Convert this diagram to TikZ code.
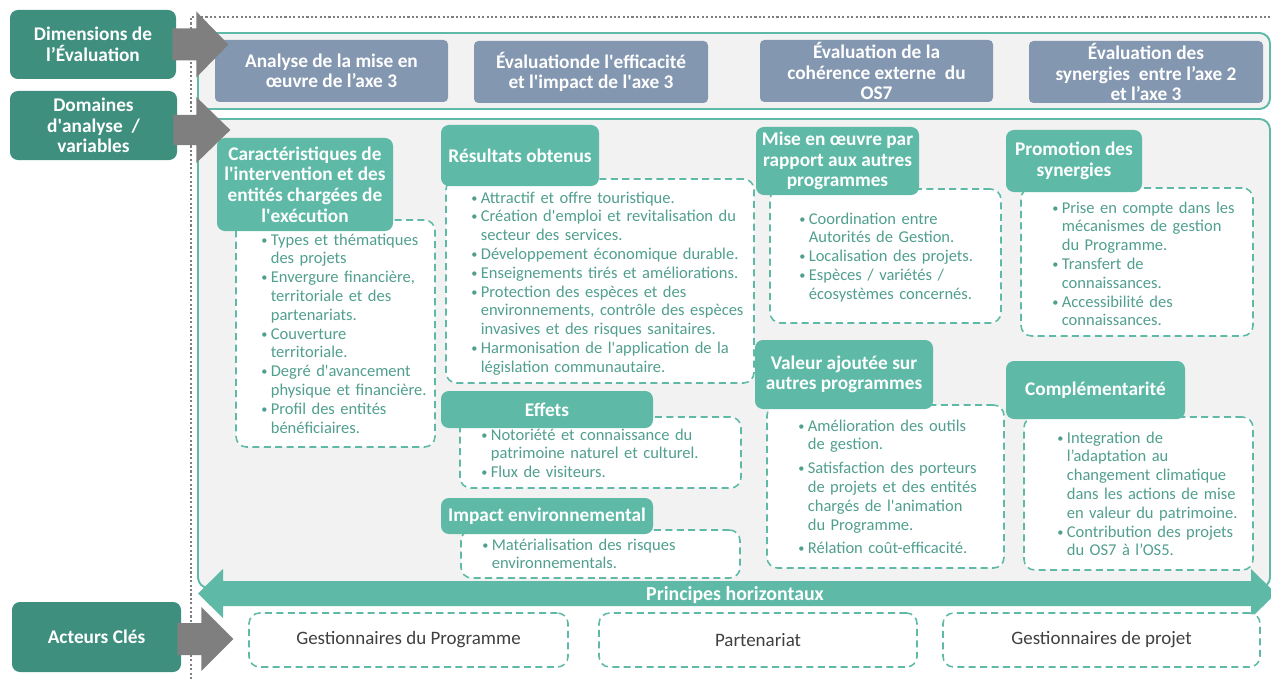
\documentclass[tikz,border=0pt]{standalone}
\usepackage{fontspec}
\setmainfont{Carlito}
\usetikzlibrary{positioning}
\usetikzlibrary{fit}

\definecolor{dimgreen}{HTML}{3F8F7F}
\definecolor{headgreen}{HTML}{5EBAA7}
\definecolor{evalblue}{HTML}{8497B0}
\definecolor{panelgray}{HTML}{F2F2F2}
\definecolor{listtxt}{HTML}{519F8E}
\definecolor{arrowgray}{HTML}{7F7F7F}

\newcommand{\itm}{\par\hangindent=5.4pt\hangafter=1\noindent
  \makebox[5.4pt][l]{\raisebox{0.6pt}{\fontsize{7}{6}\selectfont\textbullet}}}
\newcommand{\itmgap}{\par\vspace{2.8pt}\itm}
\newcommand{\brk}{\newline}
\newcommand{\sq}{\textquotesingle}

\tikzset{
  boxsize/.style 2 args={minimum width=#1*0.02cm, minimum height=#2*0.02cm},
  dimbox/.style={fill=dimgreen, rounded corners=4.5pt, inner sep=0pt, align=center,
    text=white, font=\fontsize{11}{11.7}\selectfont\bfseries},
  evalbox/.style={fill=evalblue, rounded corners=2.5pt, inner sep=0pt, align=center,
    text=white, font=\fontsize{11}{11.7}\selectfont\bfseries},
  headbox/.style={fill=headgreen, rounded corners=4.5pt, inner sep=0pt, align=center,
    text=white, font=\fontsize{11}{11.7}\selectfont\bfseries},
  panel/.style={draw=headgreen, fill=panelgray, line width=1.1pt, rounded corners=6pt, inner sep=0pt},
  listbox/.style={draw=headgreen, fill=white, line width=0.9pt, dash pattern=on 4pt off 2.5pt,
    rounded corners=6pt, inner sep=0pt},
  listtext/.style={anchor=north west, inner sep=0pt, text width=6cm, align=left,
    text=listtxt, font=\fontsize{9.4}{10.7}\selectfont},
  actorbox/.style={listbox, text=black!75, font=\fontsize{10.8}{13}\selectfont},
  blockarrow/.style={fill=arrowgray},
  bandarrow/.style={fill=headgreen},
  dotline/.style={draw=arrowgray, line width=1.3pt, dash pattern=on 1.2pt off 1.3pt}
}

\begin{document}
\begin{tikzpicture}[x=0.02cm, y=-0.02cm]
  \useasboundingbox (0,0) rectangle (1271,679);
  \draw[dotline] (191,679) -- (191,17) -- (1271,17);

  % panels
  \node[panel, fit={(198,33) (1270,109)}] (toppanel) {};
  \node[panel, fit={(198,119) (1270,588)}] (mainpanel) {};

  % dimensions de l'evaluation
  \node[evalbox, boxsize={233}{62}] (miseoeuvre) at (331.5,71) {Analyse de la mise en\\œuvre de l’axe 3};
  \node[evalbox, boxsize={234}{62}] (efficacite) at (591,72) {Évaluationde l\sq efficacité\\et l\sq impact de l\sq axe 3};
  \node[evalbox, boxsize={233}{62}] (coherence) at (876.5,71) {Évaluation de la\\cohérence externe\ \ du\\OS7};
  \node[evalbox, boxsize={234}{62}] (synergies) at (1146,72) {Évaluation des\\synergies\ \ entre l’axe 2\\et l’axe 3};

  % lists
  \node[listbox, fit={(236,220) (435,447)}] (caractbox) {};
  \node[listtext] (caracttxt) at (261,226) {
    \itm Types et thématiques\brk des projets
    \itm Envergure financière,\brk territoriale et des\brk partenariats.
    \itm Couverture\brk territoriale.
    \itm Degré d\sq avancement\brk physique et financière.
    \itm Profil des entités\brk bénéficiaires.\par};
  \node[listbox, fit={(446,179) (754,383)}] (resultbox) {};
  \node[listtext] (resulttxt) at (471,184) {
    \itm Attractif et offre touristique.
    \itm Création d\sq emploi et revitalisation du\brk secteur des services.
    \itm Développement économique durable.
    \itm Enseignements tirés et améliorations.
    \itm Protection des espèces et des\brk environnements, contrôle des espèces\brk invasives et des risques sanitaires.
    \itm Harmonisation de l\sq application de la\brk législation communautaire.\par};
  \node[listbox, fit={(460,417) (741,488)}] (effetsbox) {};
  \node[listtext] (effetstxt) at (481,421) {
    \itm Notoriété et connaissance du\brk patrimoine naturel et culturel.
    \itm Flux de visiteurs.\par};
  \node[listbox, fit={(461,530) (740,578)}] (impactbox) {};
  \node[listtext] (impacttxt) at (482,531) {
    \itm Matérialisation des risques\brk environnementals.\par};
  \node[listbox, fit={(770,189) (1001,323)}] (autresbox) {};
  \node[listtext] (autrestxt) at (799,205) {
    \itm Coordination entre\brk Autorités de Gestion.
    \itm Localisation des projets.
    \itm Espèces / variétés /\brk écosystèmes concernés.\par};
  \node[listbox, fit={(1021,188) (1253,336)}] (promobox) {};
  \node[listtext] (promotxt) at (1052,194) {
    \itm Prise en compte dans les\brk mécanismes de gestion\brk du Programme.
    \itm Transfert de\brk connaissances.
    \itm Accessibilité des\brk connaissances.\par};
  \node[listbox, fit={(767,405) (1004,568)}] (valeurbox) {};
  \node[listtext] (valeurtxt) at (798,412) {
    \itm Amélioration des outils\brk de gestion.
    \itmgap Satisfaction des porteurs\brk de projets et des entités\brk chargés de l\sq animation\brk du Programme.
    \itmgap Rélation coût-efficacité.\par};
  \node[listbox, fit={(1024,417) (1253,570)}] (complbox) {};
  \node[listtext] (compltxt) at (1057,424) {
    \itm Integration de\brk l’adaptation au\brk changement climatique\brk dans les actions de mise\brk en valeur du patrimoine.
    \itm Contribution des projets\brk du OS7 à l’OS5.\par};

  % domaines d'analyse
  \node[headbox, boxsize={176}{93}] (caract) at (305,184.5) {Caractéristiques de\\l\sq intervention et des\\entités chargées de\\l\sq exécution};
  \node[headbox, boxsize={158}{61}] (resultats) at (520,155.5) {Résultats obtenus};
  \node[headbox, boxsize={212}{37}] (effets) at (547,409.5) {Effets};
  \node[headbox, boxsize={212}{36}] (impact) at (547,516) {Impact environnemental};
  \node[headbox, boxsize={163}{68}] (autres) at (837.5,161) {Mise en œuvre par\\rapport aux autres\\programmes};
  \node[headbox, boxsize={136}{62}] (promotion) at (1074,161) {Promotion des\\synergies};
  \node[headbox, boxsize={178}{69}] (valeur) at (844,374.5) {Valeur ajoutée sur\\autres programmes};
  \node[headbox, boxsize={179}{58}] (complement) at (1095.5,390) {Complémentarité};

  % principes horizontaux
  \fill[bandarrow] (198,593.5) -- (223,569) -- (223,581) -- (1251,581) -- (1251,569) -- (1276,593.5)
    -- (1251,618) -- (1251,606) -- (223,606) -- (223,618) -- cycle;
  \node[text=white, font=\fontsize{11.3}{12}\selectfont\bfseries] (principes) at (735,595) {Principes horizontaux};

  % acteurs
  \node[actorbox, boxsize={319}{54}] (gestprog) at (408.5,640) {Gestionnaires du Programme};
  \node[actorbox, boxsize={318}{54}] (partenariat) at (758,640) {Partenariat};
  \node[actorbox, boxsize={317}{54}] (gestprojet) at (1101.5,640) {Gestionnaires de projet};

  % left column
  \node[dimbox, boxsize={166}{69}] (dimeval) at (93,44.5) {Dimensions de\\l’Évaluation};
  \node[dimbox, boxsize={167}{69}] (domaines) at (93.5,125.5) {Domaines\\d\sq analyse\ \ /\\variables};
  \node[dimbox, boxsize={169}{70}] (acteurs) at (96.5,637) {Acteurs Clés};

  \fill[blockarrow] (dimeval.east) ++(-4,-16) -- ++(24,0) -- ++(0,-17) -- ++(32,33)
    -- ++(-32,33) -- ++(0,-17) -- ++(-24,0) -- cycle;
  \fill[blockarrow] (domaines.east) ++(-4,-10.5) -- ++(23,0) -- ++(0,-18) -- ++(34,33)
    -- ++(-34,33) -- ++(0,-18) -- ++(-23,0) -- cycle;
  \fill[blockarrow] (acteurs.east) ++(-4,-14) -- ++(24,0) -- ++(0,-16) -- ++(32,32)
    -- ++(-32,32) -- ++(0,-16) -- ++(-24,0) -- cycle;
\end{tikzpicture}
\end{document}
